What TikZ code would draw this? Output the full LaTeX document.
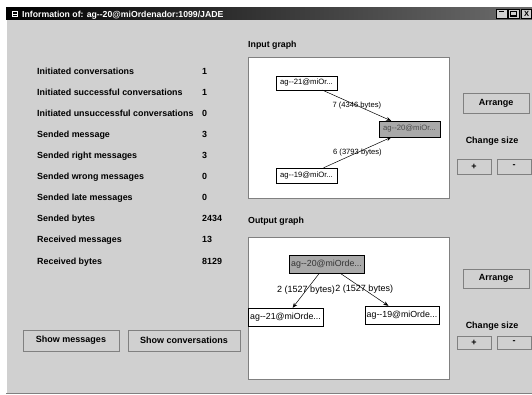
\documentclass[tikz,border=0pt]{standalone}
\usepackage{fontspec}
\setmainfont{Liberation Sans}
\usetikzlibrary{arrows.meta}
\definecolor{winbg}{HTML}{D0D0D0}
\definecolor{nodegray}{HTML}{A9A9A9}
\definecolor{edgegray}{HTML}{808080}
\tikzset{
  lbl/.style={anchor=base west,inner sep=0pt,font=\fontsize{8.9}{10}\selectfont\bfseries},
  val/.style={anchor=base west,inner sep=0pt,font=\fontsize{8.9}{10}\selectfont\bfseries},
  btn/.style={draw=edgegray,fill=winbg,inner sep=0pt,font=\fontsize{9}{10}\selectfont\bfseries},
  panel/.style={draw=edgegray,fill=white},
  gnodeA/.style={draw=black,fill=white,inner sep=0pt,font=\fontsize{7.7}{9}\selectfont},
  gnodeB/.style={draw=black,fill=white,inner sep=0pt,font=\fontsize{8.8}{10}\selectfont},
  elabA/.style={inner sep=0pt,font=\fontsize{7.6}{9}\selectfont},
  elabB/.style={inner sep=0pt,font=\fontsize{9}{10}\selectfont},
  edge/.style={draw=black,line width=0.5pt,-{Stealth[length=5pt,width=4pt]}},
  hdr/.style={anchor=base west,inner sep=0pt,font=\fontsize{8.8}{10}\selectfont\bfseries},
  smalltxt/.style={inner sep=0pt,font=\fontsize{9}{10}\selectfont\bfseries},
}
\begin{document}
\begin{tikzpicture}[x=1pt,y=-1pt]
\useasboundingbox (0,0) rectangle (532,395);
\fill[white] (0,0) rectangle (532,395);
% window body
\fill[winbg] (6,8) rectangle (532,393);
\draw[white,line width=0.8pt] (6.4,8) -- (6.4,393);
\draw[edgegray,line width=0.8pt] (6,393) -- (532,393);
% title bar
\shade[left color=black,right color=gray!85!black] (6,8) rectangle (532,20);
\node[draw=white,line width=0.5pt,minimum width=5pt,minimum height=5pt,inner sep=0pt] (ticon) at (15,14) {};
\draw[white,line width=0.5pt] (ticon.west) -- (ticon.east);
\node[anchor=base west,inner sep=0pt,text=white,font=\fontsize{8.7}{10}\selectfont\bfseries] (title) at (22,17.5) {Information of: ag-{}-20@miOrdenador:1099/JADE};
\node[draw=black,fill=winbg,minimum width=11pt,minimum height=9pt,inner sep=0pt] (bmin) at (501.5,13.5) {};
\fill[black] ([xshift=-2.5pt,yshift=1.5pt]bmin.center) rectangle ([xshift=2pt,yshift=2.5pt]bmin.center);
\node[draw=black,fill=winbg,minimum width=11pt,minimum height=9pt,inner sep=0pt] (bmax) at (513.5,13.5) {};
\draw[black,line width=0.5pt] ([xshift=-3pt,yshift=-2.5pt]bmax.center) rectangle ([xshift=3pt,yshift=2.5pt]bmax.center);
\draw[black,line width=1pt] ([xshift=-3pt,yshift=-2.5pt]bmax.center) -- ([xshift=3pt,yshift=-2.5pt]bmax.center);
\node[draw=black,fill=winbg,minimum width=10pt,minimum height=9pt,inner sep=0pt,font=\fontsize{7.5}{7}\selectfont\bfseries] (bclose) at (526.5,13.5) {X};
% left statistics
\node[lbl] (l1) at (37,75) {Initiated conversations};
\node[lbl] (l2) at (37,96) {Initiated successful conversations};
\node[lbl] (l3) at (37,117) {Initiated unsuccessful conversations};
\node[lbl] (l4) at (37,138) {Sended message};
\node[lbl] (l5) at (37,159) {Sended right messages};
\node[lbl] (l6) at (37,180) {Sended wrong messages};
\node[lbl] (l7) at (37,201) {Sended late messages};
\node[lbl] (l8) at (37,222) {Sended bytes};
\node[lbl] (l9) at (37,243) {Received messages};
\node[lbl] (l10) at (37,264) {Received bytes};
\node[val] (v1) at (202,75) {1};
\node[val] (v2) at (202,96) {1};
\node[val] (v3) at (202,117) {0};
\node[val] (v4) at (202,138) {3};
\node[val] (v5) at (202,159) {3};
\node[val] (v6) at (202,180) {0};
\node[val] (v7) at (202,201) {0};
\node[val] (v8) at (202,222) {2434};
\node[val] (v9) at (202,243) {13};
\node[val] (v10) at (202,264) {8129};
% bottom buttons
\node[btn,minimum width=96pt,minimum height=21pt] (bshowm) at (71,340.5) {Show messages};
\node[btn,minimum width=112pt,minimum height=21pt] (bshowc) at (184,340.5) {Show conversations};
% input graph
\node[hdr] (inhdr) at (248,47.5) {Input graph};
\draw[panel] (248,57) rectangle (449,198);
\node[gnodeA,minimum width=61pt,minimum height=14pt] (in21) at (306.5,83) {ag-{}-21@miOr...};
\node[gnodeA,fill=nodegray,text=black!70,minimum width=61pt,minimum height=16pt] (in20) at (409.5,129) {ag-{}-20@miOr...};
\node[gnodeA,minimum width=61pt,minimum height=15pt] (in19) at (306.5,175.5) {ag-{}-19@miOr...};
\draw[edge] (in21) -- node[elabA] {7 (4346 bytes)} (in20);
\draw[edge] (in19) -- node[elabA] {6 (3793 bytes)} (in20);
% output graph
\node[hdr] (outhdr) at (248,223.5) {Output graph};
\draw[panel] (248,237) rectangle (449,379);
\node[gnodeB,fill=nodegray,text=black!80,minimum width=75pt,minimum height=18pt] (out20) at (326.5,264) {ag-{}-20@miOrde...};
\node[gnodeB,minimum width=75pt,minimum height=18pt] (out21) at (285.5,317) {ag-{}-21@miOrde...};
\node[gnodeB,minimum width=74pt,minimum height=18pt] (out19) at (402,315) {ag-{}-19@miOrde...};
\draw[edge] (out20) -- node[elabB] {2 (1527 bytes)} (out21);
\draw[edge] (out20) -- node[elabB] {2 (1527 bytes)} (out19);
% right controls (input)
\node[btn,minimum width=66pt,minimum height=20pt] (arr1) at (496,103) {Arrange};
\node[smalltxt] (cs1) at (492,141) {Change size};
\node[btn,minimum width=34pt,minimum height=15pt] (plus1) at (474,166.5) {+};
\node[btn,minimum width=34pt,minimum height=15pt] (minus1) at (514,166.5) {-};
% right controls (output)
\node[btn,minimum width=66pt,minimum height=19pt] (arr2) at (496,278.5) {Arrange};
\node[smalltxt] (cs2) at (492,326) {Change size};
\node[btn,minimum width=34pt,minimum height=13pt] (plus2) at (474,342.5) {+};
\node[btn,minimum width=34pt,minimum height=13pt] (minus2) at (514,342.5) {-};
\end{tikzpicture}
\end{document}
